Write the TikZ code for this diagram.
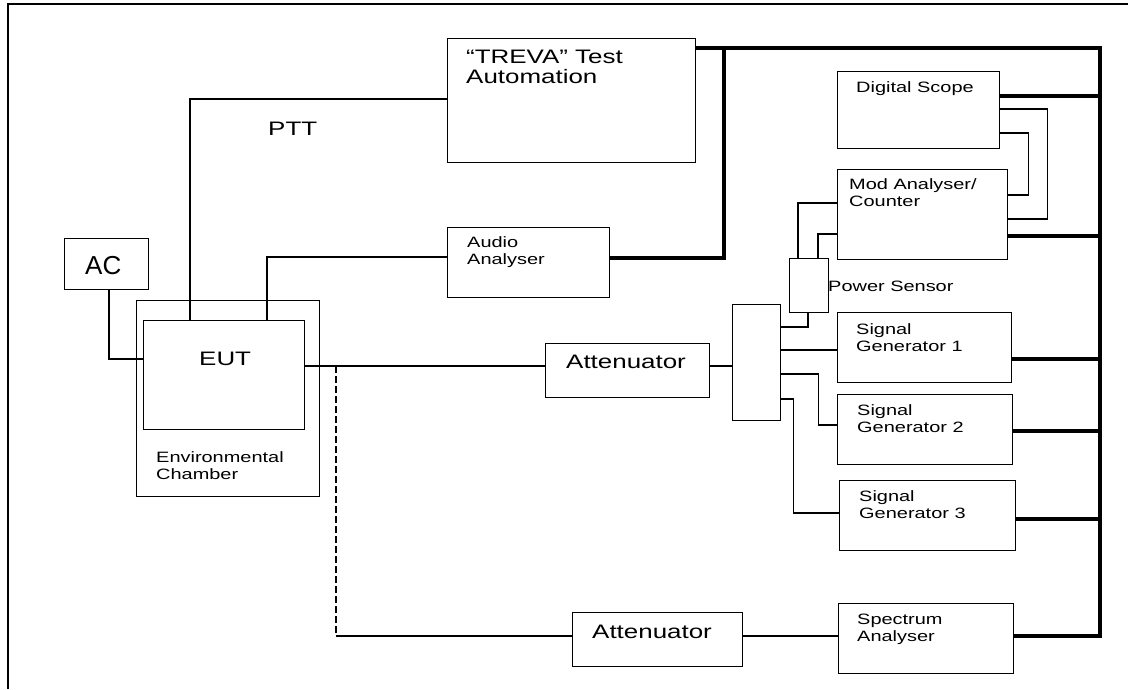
\documentclass[tikz,border=0pt]{standalone}
\usepackage{fontspec}
\usetikzlibrary{calc}
\newfontfamily\sfwide{Liberation Sans}[FakeStretch=1.33]
\newfontfamily\sfplain{Liberation Sans}
\tikzset{
  box/.style={draw, line width=1.3pt, inner sep=0pt, anchor=north west},
  wire/.style={line width=1.1pt},
  bus/.style={line width=3.8pt},
  dashwire/.style={line width=1.6pt, dash pattern=on 7pt off 3pt},
  bigtext/.style={font=\sfwide\fontsize{19.5}{20}\selectfont, anchor=base west, inner sep=0pt, align=left},
  smalltext/.style={font=\sfwide\fontsize{15}{17}\selectfont, anchor=base west, inner sep=0pt, align=left},
  actext/.style={font=\sfplain\fontsize{26}{28}\selectfont, anchor=base west, inner sep=0pt}
}
\begin{document}
\begin{tikzpicture}[x=1pt,y=-1pt]
\useasboundingbox (0,0) rectangle (1128,689);
% frame
\draw[line width=2pt] (8,689) -- (8,4) -- (1128,4);

% boxes
\node[box, minimum width=248pt, minimum height=124pt] (treva) at (447,38) {};
\node[box, minimum width=162pt, minimum height=77pt] (scope) at (837,71) {};
\node[box, minimum width=170pt, minimum height=90pt] (mod) at (837,169) {};
\node[box, minimum width=162pt, minimum height=70pt] (audio) at (447,227) {};
\node[box, minimum width=39pt, minimum height=54pt] (ps) at (789,258) {};
\node[box, minimum width=48pt, minimum height=116pt] (split) at (732,304) {};
\node[box, minimum width=174pt, minimum height=70pt] (sg1) at (837,312) {};
\node[box, minimum width=175pt, minimum height=70pt] (sg2) at (837,394) {};
\node[box, minimum width=176pt, minimum height=70pt] (sg3) at (839,480) {};
\node[box, minimum width=175pt, minimum height=70pt] (spa) at (838,603) {};
\node[box, minimum width=164pt, minimum height=54pt] (att1) at (545,343) {};
\node[box, minimum width=170pt, minimum height=54pt] (att2) at (572,612) {};
\node[box, minimum width=84pt, minimum height=51pt] (ac) at (64,238) {};
\node[box, minimum width=183pt, minimum height=196pt] (env) at (136,300) {};
\node[box, minimum width=161pt, minimum height=109pt] (eut) at (143,320) {};

% texts (two-line texts anchored at the baseline of their last line)
\node[bigtext] (t-treva) at (466,83) {“TREVA” Test\\Automation};
\node[bigtext] (t-ptt) at (268,135) {PTT};
\node[smalltext] (t-scope) at (856,92) {Digital Scope};
\node[smalltext] (t-mod) at (849,206) {Mod Analyser/\\Counter};
\node[smalltext] (t-audio) at (467,264) {Audio\\Analyser};
\node[smalltext] (t-ps) at (828,291) {Power Sensor};
\node[smalltext] (t-sg1) at (856,351) {Signal\\Generator 1};
\node[smalltext] (t-sg2) at (857,432) {Signal\\Generator 2};
\node[smalltext] (t-sg3) at (859,518) {Signal\\Generator 3};
\node[smalltext] (t-spa) at (857,641) {Spectrum\\Analyser};
\node[bigtext] (t-eut) at (199,365) {EUT};
\node[actext] (t-ac) at (85,274) {AC};
\node[smalltext] (t-env) at (156,479) {Environmental\\Chamber};
\node[bigtext] (t-att1) at (566,368) {Attenuator};
\node[bigtext] (t-att2) at (592,638) {Attenuator};

% helper coordinates
\coordinate (bustop) at (1100,48);
\coordinate (busbot) at (1100,636);
\coordinate (tap) at (336,366);
\coordinate (corner) at (336,636);

% thin wires
\draw[wire] ($(eut.north west)+(47,0)$) |- ($(treva.north west)+(0,61)$);
\draw[wire] ($(eut.north west)+(124,0)$) |- ($(audio.north west)+(0,30)$);
\draw[wire] ($(ac.south west)+(45,0)$) |- ($(eut.north west)+(0,39)$);
\draw[wire] ($(eut.north east)+(0,46)$) -- ($(att1.north west)+(0,23)$);
\draw[wire] ($(att1.north east)+(0,23)$) -- ($(split.north west)+(0,62)$);
\draw[wire] ($(split.north east)+(0,23)$) -| ($(ps.south west)+(19,0)$);
\draw[wire] ($(split.north east)+(0,46)$) -- ($(sg1.north west)+(0,38)$);
\draw[wire] ($(split.north east)+(0,70)$) -- ++(37,0) |- ($(sg2.north west)+(0,31)$);
\draw[wire] ($(split.north east)+(0,95)$) -- ++(12,0) |- ($(sg3.north west)+(0,33)$);
\draw[wire] ($(ps.north west)+(9,0)$) |- ($(mod.north west)+(0,34)$);
\draw[wire] ($(ps.north west)+(29,0)$) |- ($(mod.north west)+(0,65)$);
\draw[wire] ($(scope.north east)+(0,38)$) -- ++(47,0) |- ($(mod.north east)+(0,50)$);
\draw[wire] ($(scope.north east)+(0,62)$) -- ++(28,0) |- ($(mod.north east)+(0,26)$);
\draw[dashwire] (tap) -- (corner);
\draw[wire] (corner) -- ($(att2.north west)+(0,24)$);
\draw[wire] ($(att2.north east)+(0,24)$) -- ($(spa.north west)+(0,33)$);

% thick bus
\draw[bus] ($(treva.north east)+(0,10)$) -- (bustop) -- (busbot) -- ($(spa.north east)+(0,33)$);
\draw[bus] ($(treva.north east)+(28,10)$) |- ($(audio.north east)+(0,31)$);
\draw[bus] ($(scope.north east)+(0,25)$) -| (bustop);
\draw[bus] ($(mod.north east)+(0,67)$) -| (bustop);
\draw[bus] ($(sg1.north east)+(0,47)$) -| (bustop);
\draw[bus] ($(sg2.north east)+(0,37)$) -| (bustop);
\draw[bus] ($(sg3.north east)+(0,39)$) -| (bustop);
\end{tikzpicture}
\end{document}
